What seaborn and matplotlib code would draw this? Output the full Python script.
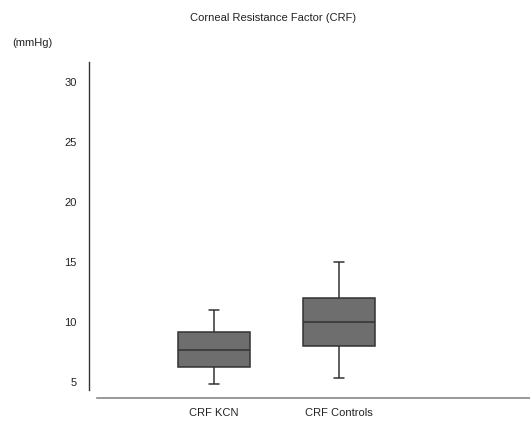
import pandas as pd
import matplotlib
matplotlib.use("Agg")
import matplotlib.pyplot as plt
import seaborn as sns

# Five-number summaries (min, q1, median, q3, max)
groups = ["CRF KCN", "CRF Controls"]
kcn_vals = [4.8, 6.25, 7.7, 9.2, 11.0]
ctrl_vals = [5.3, 8.0, 10.0, 12.0, 15.0]
y_ticks = [5, 10, 15, 20, 25, 30]

data = pd.DataFrame({
    "group": [groups[0]] * len(kcn_vals) + [groups[1]] * len(ctrl_vals),
    "crf": kcn_vals + ctrl_vals,
})

sns.set_style("white")
plt.rcParams["font.family"] = ["Liberation Sans", "DejaVu Sans"]

fig = plt.figure(figsize=(5.3, 4.21), dpi=100)
ax = fig.add_axes([89 / 530, 31 / 421, 441 / 530, 328 / 421])

sns.boxplot(
    data=data, x="group", y="crf", ax=ax,
    width=0.58, whis=3.0,
    color="#6e6e6e", saturation=1,
    linecolor="#333333", linewidth=1.1,
    capwidths=0.08,
)

ax.set_xlim(-1.0, 2.528)
ax.set_ylim(4.33, 31.67)
ax.set_yticks(y_ticks)
ax.set_xlabel("")
ax.set_ylabel("")

for s in ["top", "right"]:
    ax.spines[s].set_visible(False)
ax.spines["left"].set_color("#333333")
ax.spines["left"].set_linewidth(1.0)
ax.spines["bottom"].set_position(("outward", 6))
ax.spines["bottom"].set_bounds(-0.936, 2.528)
ax.spines["bottom"].set_color("#888888")
ax.spines["bottom"].set_linewidth(1.2)

ax.tick_params(axis="y", length=0, pad=9, labelsize=8, labelcolor="#222222")
ax.tick_params(axis="x", length=0, pad=7, labelsize=8, labelcolor="#222222")

fig.text(273 / 530, 1 - 18 / 421, "Corneal Resistance Factor (CRF)",
         ha="center", va="center", fontsize=8, color="#222222")
fig.text(12 / 530, 1 - 43 / 421, "(mmHg)",
         ha="left", va="center", fontsize=8, color="#222222")

fig.savefig("out.png", dpi=100)
